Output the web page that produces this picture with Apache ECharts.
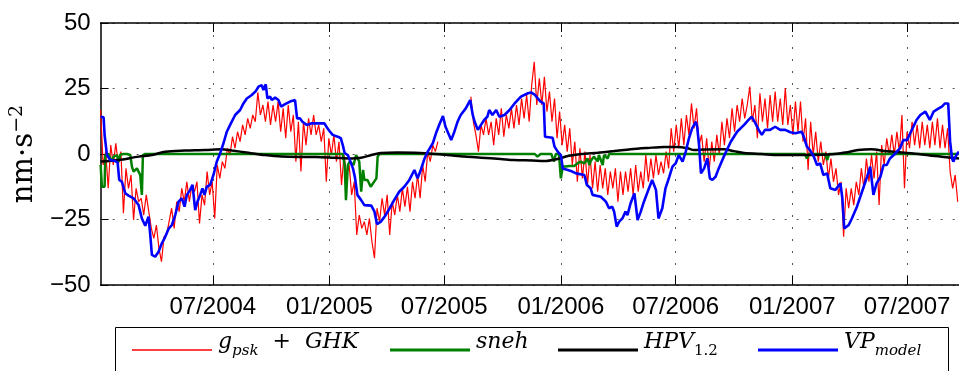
<!DOCTYPE html>
<html>
<head>
<meta charset="utf-8">
<script src="https://cdn.jsdelivr.net/npm/echarts@6.0.0/dist/echarts.min.js"></script>
<style>
html,body{margin:0;padding:0;background:#fff;}
#chart{width:959px;height:371px;}
</style>
</head>
<body>
<div id="chart"></div>
<script>
// x values are days since 2004-01-01
const X_MIN_DAY = 5;
const X_MAX_DAY = 1359;
const TICK_DAYS = [182, 366, 547, 731, 912, 1096, 1277];
const TICK_LABELS = ['07/2004', '01/2005', '07/2005', '01/2006', '07/2006', '01/2007', '07/2007'];
const Y_TICKS = [-50, -25, 0, 25, 50];

const SERIES_NAMES = ['gpsk + GHK', 'sneh', 'HPV1.2', 'VPmodel'];

// g_psk + GHK : sampled every RED_STEP_DAYS days starting at RED_START_DAY (null = no data)
const RED_START_DAY = 5;
const RED_STEP_DAYS = 4;
const RED_VALUES = [
  16.8, -4.2, 0.9, -13.1, 3.4, -4.2, 4.1, -4.2, 0.9, -22.6,
  -5.5, -13.1, -8, -25.2, -13.1, -18.2, -16.9, -23.3, -15.6, -22,
  -28.4, -32.2, -27.1, -36, -41.1, -31.6, -30.9, -25.8, -20.7, -28.4,
  -18.2, -22, -13.1, -18.2, -10.6, -18.2, -11.8, -14.4, -10.6, -26.5,
  -15.6, -19.5, -6.7, -15.6, -10.6, -24.6, -4.2, -9.3, -2.9, -5.5,
  2.2, -0.4, 6.6, 2.2, 8.5, 4.7, 11.1, 7.3, 13.6, 9.8,
  14.9, 12.3, 23.5, 14.9, 18.7, 12.3, 20, 11.1, 18.7, 12.3,
  20, 8.5, 17.4, 6, 18.7, 8.5, 14.9, -2.9, 12.3, -6.7,
  12.3, 3.4, 13.6, 7.3, 14.9, 7.3,
  11.1, 4.7, 9.8, -10.6, 6, -0.4, 7.3, -2.9, 4.7, -11.8,
  -0.4, -8, -4.2, -15.6, -10.6, -30.9, -23.3, -28.4, -25.8, -30.9,
  -24.6, -33.5, -39.8, -20.7, -25.8, -16.9, -23.3, -15.6, -30.9, -18.2,
  -23.3, -15.6, -22, -13.1, -20.1, -12.5, -22, -10.6, -16.9, -8,
  -16.9, -4.2, -10.6, 0.9, -2.9, 3.4, 0.9, 4.7,
  null, null, null, null, null, null, null, null, null, null, null, null,
  21.9, 12.3, 7.3, 0.9, 11.1, 7.3, 13.6, 7.3, 12.3, 3.4,
  13.6, 7.3, 17.4, 6.6, 14.9, 9.8, 17.4, 9.8, 18.7, 11.1,
  21.2, 13.6, 22.5, 12.3, 26.3,
  35.2, 18.7, 28.9, 18.7, 29.5, 16.2, 23.8, 12.3, 21.2, 6,
  16.2, 3.4, 11.1, 0.9, 9.8, -4.2, 4.7, -10.6, 2.2, -9.3,
  0.9, -11.8, -0.4, -13.1, -2.9, -14.4, -4.2, -13.1, -5.5, -15.6,
  -6.7, -13.1, -5.5, -18.2, -6.7, -15.6, -6.7, -14.4, -5.5, -15.6,
  -4.2, -14.4, -6.7, -13.1, -0.4, -10.6, -1.7, -9.3, -0.4, -8,
  -2.9, -7.4, 0.9, -5.5, 9.8, 0.9, 11.1, 2.2, 13.6, 3.4,
  14.9, 7.3, 19.3, 9.8, 17.4, 3.4, 7.3, -2.9, 6, -6.1,
  4.7, -2.9, 7.3, -0.4, 12.3, 3.4, 13.6, 6, 17.4, 8.5,
  18.7, 12.3, 21.2, 13.6, 18.7,
  25.7, 12.3, 18.7, 6, 23.2, 12.3, 21.2, 9.8, 22.5, 12.3,
  23.8, 12.3, 21.2, 11.1, 25.1, 11.1, 18.7, 7.3, 20, 8.5,
  20, 4.7, 13.6, -6.1, 12.3, -0.4, 8.5, -2.9, 4.7, -4.2,
  0.9, -9.3, -1.7, -10.6, -5.5, -15.6, -10.6, -31.6, -13.1, -20.7,
  -13.1, -19.5, -10.6, -15.6, -5.5, -13.1, -1.7, -10.6, -0.4, -9.3,
  0.9, -19.5, 3.4, -4.2, 6, -0.4, 7.3, -0.4, 8.5, 0.9,
  14.9, -13.1, 8.5, 2.2, 12.3, 3.4, 11.1, 2.2, 12.3, 3.4,
  11.1, 2.2, 12.3, 3.4, 13.6, 2.2, 11.1, 2.2, 9.8, -6.7,
  -13.1, -8, -18.2
];

// sneh : [day, value]
const GREEN_DATA = [
  [5,-4.2],[7.1,-12.5],[11.3,-12.5],[12.4,-0.4],[17.6,0],[21.8,-2.9],[25.5,-1],[30.7,-0.4],[33.4,-2.9],[36,-0.2],
  [41.2,0],[46.5,0],[51.8,-0.4],[54.4,-4.8],[57,-6.7],[59.6,-7],[62.3,-5.5],[64.9,-6.1],[67.5,-8],[70.1,-15.6],
  [71.7,-0.4],[75.4,0],[387,0],[390,-4.2],[392,-17.6],[395,-4.2],[398,-2.9],[401,-2.9],[404,-4.2],[408,-0.4],
  [411,0],[413,-2.9],[416,-14.4],[419,-6.1],[421,-9.9],[426,-9.9],[431,-12.5],[434,-13.1],[440,-9.3],[442,-1],
  [445,0],[690,0],[694,-1],[699,0],[716,0],[720,-2.9],[723,0],[728,0],[731,-9.3],[734,-4.8],
  [739,-4.8],[744,-4.6],[752,-4.6],[757,-3.6],[762,-2.9],[768,-3.6],[773,-1.7],[776,-4.2],[778,-2.7],[783,-1],
  [789,-2.9],[791,-0.4],[797,-4.2],[799,-0.4],[805,-1.7],[807,0],[1116,0],[1119,-1.7],[1122,0],[1148,0],
  [1151,-2.3],[1154,0],[1359,0]
];

// HPV_1.2 : [day, value]
const BLACK_DATA = [
  [5,-2.9],[33,-2.3],[65,-1],[86,-0.4],[107,0.9],[138,1.3],[170,1.5],[196,1.8],[212,1.3],[238,0.5],
  [264,-0.4],[291,-1],[317,-1.1],[345,-1.1],[374,-1.4],[400,-1.7],[416,-1.4],[432,-0.4],[447,0.4],[474,0.6],
  [500,0.5],[526,0.1],[552,-0.4],[579,-1],[605,-1.4],[636,-1.9],[657,-2.3],[686,-2.5],[705,-2.7],[726,-1.9],
  [742,-0.8],[763,0],[789,0.5],[815,1.1],[841,1.8],[868,2.3],[894,2.7],[915,2.7],[931,2.2],[941,1.5],
  [957,1.7],[988,1.8],[1004,1.1],[1020,0.4],[1048,0],[1074,-0.4],[1101,-0.4],[1127,-0.4],[1159,-0.1],[1180,0.6],
  [1200,1.5],[1221,1.8],[1242,1.1],[1269,0.6],[1295,0],[1321,-0.8],[1343,-1.3],[1359,-1.7]
];

// VP_model : [day, value]
const BLUE_DATA = [
  [5,14.2],[9.7,14],[11.3,7.3],[15,-0.4],[20.2,-2.3],[28.1,-2.7],[31.8,-3.2],[34.4,-9.9],[38.6,-10.6],[43.9,-15],
  [49.1,-15.9],[57,-16.9],[64.9,-19.5],[70.1,-24.6],[75.4,-27.4],[80.6,-23.9],[83.3,-30.9],[85.9,-38.5],[91.1,-39.2],[96.4,-37.3],
  [101.6,-34.1],[106.9,-31.6],[112.1,-28.6],[117.4,-27.1],[122.7,-23.3],[127.9,-18.2],[133.2,-16.9],[137.4,-20.1],[141,-15.6],[146.3,-13.7],
  [150,-11.8],[154.2,-21.4],[157.8,-18.2],[162,-15.6],[165.7,-13.1],[168.9,-15.6],[172.5,-12.5],[177.8,-11.8],[183,-8],[188.3,-2.9],
  [193.6,0.3],[198.8,4.1],[204.1,8.5],[209.3,11.1],[217.2,14.9],[225.1,16.8],[230.3,19.3],[235.6,21.2],[243.4,22.5],[249.8,24],
  [254,25.7],[259.2,26.3],[261.8,24.4],[265.5,26.6],[268.1,21.2],[272.3,21.9],[275,20.6],[280.2,21.5],[285.5,20.6],[289.7,18.1],
  [296,19],[303.8,20],[311.7,20.6],[314.9,13.6],[319.6,13.6],[323.3,12.3],[330.1,11.1],[338,11.7],
  [345.3,11.7],[358,11.7],[362,10.1],[366,8.8],[371,7.3],[379,6.6],[384,6],[387,3.4],[390,0.3],[395,-0.4],
  [399,-2.9],[403,-5.5],[406,-8.7],[410,-15.6],[416,-17.6],[421,-19.5],[432,-19.7],[437,-22],[441,-26.8],[447,-25.8],
  [453,-23.9],[461,-20.7],[468,-17.6],[476,-14.4],[484,-12.5],[492,-9.9],[500,-6.1],[505,-9.3],[510,-6.1],[516,-1.7],
  [521,0.9],[529,4.1],[534,7.9],[539,11.1],[545,14.5],[549,10.4],[552,11.1],[558,5.3],[563,8.5],[568,12.3],
  [573,14.9],[581,17.4],[588,20.6],[592,14.9],[595,12.3],[600,9.2],[605,11.1],[610,13],[615,14.2],[618,16.8],
  [623,14.9],[629,16.8],[634,14.2],[642,14.9],[650,16.8],[658,19.3],[668,21.9],[679,23.2],
  [684,23.5],[689,22.8],[699,20],[704,19.3],[706,6.6],[718,6.2],[721,2.8],[726,0.9],[731,-0.4],[734,-5.5],
  [742,-6.1],[749,-6.7],[755,-7.4],[768,-8],[772,-11.8],[778,-13.1],[781,-15.6],[794,-16.3],[802,-18.2],[807,-20.7],
  [812,-20.1],[815,-22],[819,-27.7],[823,-25.8],[828,-24.6],[833,-22],[836,-23.3],[841,-18.8],[847,-15],[852,-25.2],
  [857,-22],[862,-18.2],[870,-13.1],[875,-9.9],[881,-13.7],[885,-24.6],[891,-20.7],[896,-13.1],[902,-8.7],[907,-4.8],
  [912,-3.6],[917,-0.4],[923,-2.9],[928,0.9],[933,6],[938,9.8],[944,12.3],[946,10.4],[949,3.4],[952,-7.4],
  [957,-5.5],[962,-1.7],[966,-9.3],[970,-9.9],[975,-8.7],[980,-5.5],[988,-1],[999,4.7],[1009,8.5],[1020,11.1],
  [1027,13],[1032,14.2],[1038,11.7],[1043,9.2],[1048,7.3],[1053,9.2],[1061,9.2],[1069,10.4],[1077,9.2],[1085,9.2],
  [1093,8.3],[1101,7.9],[1111,8.5],[1115,6],[1119,2.8],[1124,1.5],[1130,-1],[1135,-4.2],[1140,-3.6],[1145,-8],
  [1151,-7.4],[1156,-13.1],[1164,-13.7],[1172,-11.2],[1175,-16.9],[1178,-28.4],[1185,-27.1],[1190,-24.6],[1198,-20.1],[1206,-14.4],
  [1214,-8.7],[1219,-4.8],[1224,-15.6],[1229,-11.2],[1235,-8.7],[1240,-4.2],[1245,-4.2],[1250,-1.7],[1256,-0.4],[1261,0.9],
  [1266,2.2],[1271,5.3],[1277,5.3],[1282,7.9],[1287,10.4],[1292,13],[1298,14.9],[1306,16.2],[1313,13],[1319,16.2],
  [1327,17.4],[1332,18.1],[1337,19.3],[1342,19.3],[1345,4.7],[1348,-1.7],[1350,-2.9],[1355,-0.4],[1359,0.9]
];

const redData = RED_VALUES.map((v, i) => [RED_START_DAY + i * RED_STEP_DAYS, v]);

const chart = echarts.init(document.getElementById('chart'), null, {renderer: 'canvas'});

const tickFont = 'Liberation Sans, Arial, Helvetica, sans-serif';
const mathFont = 'DejaVu Serif';

const RICH = {
  m: {fontFamily: mathFont, fontStyle: 'italic', fontSize: 22, color: '#000', padding: [0, 0, 16, 0]},
  r: {fontFamily: mathFont, fontStyle: 'normal', fontSize: 22, color: '#000', padding: [0, 0, 16, 0]},
  s: {fontFamily: mathFont, fontStyle: 'italic', fontSize: 15, color: '#000', padding: [2, 0, 0, 0]},
  sr: {fontFamily: mathFont, fontStyle: 'normal', fontSize: 15, color: '#000', padding: [2, 0, 0, 0]}
};
const LEGEND_TEXT = {
  'gpsk + GHK': '{m|g}{s|psk}{r|  +  }{m|GHK}',
  'sneh': '{m|sneh}',
  'HPV1.2': '{m|HPV}{sr|1.2}',
  'VPmodel': '{m|VP}{s|model}'
};
const LEGEND_LEFT = [132, 390, 558, 758];
const LEGEND_ICON_H = [1.5, 3, 3, 3];

function makeLegend(k) {
  return {
    data: [{name: SERIES_NAMES[k], icon: 'rect'}],
    left: LEGEND_LEFT[k],
    top: 331 - (LEGEND_ICON_H[k] > 2 ? 0 : 0),
    padding: 0,
    itemWidth: 80,
    itemHeight: LEGEND_ICON_H[k],
    itemGap: 0,
    selectedMode: false,
    formatter: (name) => LEGEND_TEXT[name],
    textStyle: {fontFamily: mathFont, fontSize: 22, color: '#000', rich: RICH, padding: [0, 0, 0, 1]}
  };
}

const gridLine = {show: true, lineStyle: {color: '#555', width: 1, type: [2, 10]}};

const option = {
  animation: false,
  backgroundColor: '#fff',
  grid: {left: 100, right: 0, top: 23, bottom: 86, containLabel: false},
  xAxis: [
    {
      type: 'value', position: 'bottom', min: X_MIN_DAY, max: X_MAX_DAY,
      axisLine: {show: true, onZero: false, lineStyle: {color: '#000', width: 1.5}},
      axisTick: {show: true, inside: true, length: 9, customValues: TICK_DAYS, lineStyle: {color: '#000', width: 1}},
      axisLabel: {
        show: true, customValues: TICK_DAYS, margin: 10,
        fontFamily: tickFont, fontSize: 24, color: '#000',
        formatter: (v) => {
          const k = TICK_DAYS.indexOf(Math.round(v));
          return k >= 0 ? TICK_LABELS[k] : '';
        }
      },
      splitLine: gridLine
    },
    {
      type: 'value', position: 'top', min: X_MIN_DAY, max: X_MAX_DAY,
      axisLine: {show: true, onZero: false, lineStyle: {color: '#000', width: 1.5}},
      axisTick: {show: true, inside: true, length: 9, customValues: TICK_DAYS, lineStyle: {color: '#000', width: 1}},
      axisLabel: {show: false},
      splitLine: {show: false}
    }
  ],
  yAxis: {
    type: 'value', min: -50, max: 50, interval: 25,
    axisLine: {show: true, onZero: false, lineStyle: {color: '#000', width: 1.5}},
    axisTick: {show: true, inside: true, length: 8, lineStyle: {color: '#000', width: 1}},
    axisLabel: {
      margin: 10, fontFamily: tickFont, fontSize: 24, color: '#000',
      formatter: (v) => (v < 0 ? '\u2212' + Math.abs(v) : String(v))
    },
    splitLine: gridLine,
    name: '{a|nm\u00b7s}{b|\u22122}',
    nameLocation: 'middle',
    nameRotate: 90,
    nameGap: 58,
    nameTextStyle: {
      rich: {
        a: {fontFamily: mathFont, fontSize: 29, color: '#000'},
        b: {fontFamily: mathFont, fontSize: 19, color: '#000', padding: [0, 0, 14, 0]}
      }
    }
  },
  legend: [makeLegend(0), makeLegend(1), makeLegend(2), makeLegend(3)],
  graphic: [{
    type: 'rect', silent: true, z: 0,
    shape: {x: 115.5, y: 327.5, width: 833, height: 60},
    style: {fill: 'none', stroke: '#000', lineWidth: 1}
  }],
  series: [
    {name: SERIES_NAMES[0], type: 'line', data: redData, showSymbol: false, symbol: 'none', connectNulls: false,
     color: '#ff0000', lineStyle: {color: '#ff0000', width: 1.2}, z: 2},
    {name: SERIES_NAMES[1], type: 'line', data: GREEN_DATA, showSymbol: false, symbol: 'none',
     color: '#008000', lineStyle: {color: '#008000', width: 2.5}, z: 3},
    {name: SERIES_NAMES[2], type: 'line', data: BLACK_DATA, showSymbol: false, symbol: 'none', smooth: 0.3,
     color: '#000000', lineStyle: {color: '#000000', width: 2.5}, z: 4},
    {name: SERIES_NAMES[3], type: 'line', data: BLUE_DATA, showSymbol: false, symbol: 'none',
     color: '#0000ff', lineStyle: {color: '#0000ff', width: 2.6}, z: 5}
  ]
};

chart.setOption(option);
</script>
</body>
</html>
